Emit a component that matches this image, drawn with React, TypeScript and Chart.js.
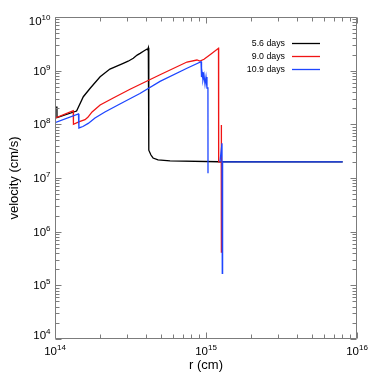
import React, { useEffect, useRef } from 'react';
import { Chart, registerables } from 'chart.js';

Chart.register(...registerables);

// Series labels and colours
const seriesLabels = ['5.6 days', '9.0 days', '10.9 days'];
const seriesColors = ['#000000', '#f01414', '#1e46ff'];

// Axis tick exponents (decades)
const xTickExponents = [14, 15, 16];
const yTickExponents = [4, 5, 6, 7, 8, 9, 10];

// 5.6 days
const r56 = [1.0e14, 1.03e14, 1.031e14, 1.39e14, 1.54e14, 1.71e14, 1.99e14, 2.31e14, 2.83e14, 3.05e14, 3.3e14, 3.5e14, 3.66e14, 3.85e14, 4.05e14, 4.1e14, 4.15e14, 4.17e14, 4.19e14, 4.32e14, 4.46e14, 4.81e14, 5.78e14, 1.22e15, 8.04e15];
const v56 = [2.1e8, 2.1e8, 1.33e8, 1.77e8, 3.27e8, 4.7e8, 7.7e8, 1.07e9, 1.37e9, 1.5e9, 1.7e9, 1.95e9, 2.1e9, 2.3e9, 2.5e9, 2.45e9, 2.68e9, 2.6e9, 3.3e7, 2.68e7, 2.36e7, 2.17e7, 2.08e7, 2.01e7, 2.0e7];

// 9.0 days
const r90 = [1.0e14, 1.32e14, 1.325e14, 1.45e14, 1.58e14, 1.65e14, 1.76e14, 1.99e14, 2.43e14, 3.14e14, 4.96e14, 7.48e14, 8.71e14, 9.12e14, 9.7e14, 1.08e15, 1.21e15, 1.213e15, 1.262e15, 1.263e15, 1.266e15];
const v90 = [1.3e8, 1.79e8, 1.0e8, 1.12e8, 1.22e8, 1.35e8, 1.7e8, 2.3e8, 3.1e8, 4.5e8, 8.4e8, 1.45e9, 1.58e9, 1.51e9, 1.63e9, 2.04e9, 2.61e9, 2.0e7, 2.0e7, 9.7e7, 4.06e5];

// 10.9 days (null = gap)
const r109 = [1.0e14, 1.43e14, 1.44e14, 1.53e14, 1.66e14, 1.84e14, 2.14e14, 2.69e14, 3.65e14, 4.96e14, 7.48e14, 9.27e14, 9.34e14, 9.41e14, 9.55e14, 9.7e14, 9.85e14, 1.0e15, 1.015e15, 1.03e15, 1.031e15, 1.1e15, 1.238e15, 1.276e15, 1.282e15, 1.288e15, 8.04e15];
const v109 = [1.07e8, 1.56e8, 8.55e7, 9.1e7, 1.04e8, 1.31e8, 1.7e8, 2.39e8, 3.76e8, 6.3e8, 1.11e9, 1.47e9, 7.6e8, 9.4e8, 6.7e8, 8.3e8, 5.6e8, 7.6e8, 4.75e8, 4.75e8, 1.22e7, null, 2.0e7, 4.44e7, 1.68e5, 2.0e7, 2.0e7];

const FONT = '"Liberation Sans", Arial, Helvetica, sans-serif';

const toPoints = (xs: number[], ys: (number | null)[]) => xs.map((x, i) => ({ x, y: ys[i] }));

const idlFrame = {
  id: 'idlFrame',
  afterDraw(chart: any) {
    const { ctx, chartArea: a, scales } = chart;
    const xs = scales.x;
    const ys = scales.y;
    const L = Math.round(a.left) + 0.5;
    const R = Math.round(a.right) - 0.5;
    const T = Math.round(a.top) + 0.5;
    const B = Math.round(a.bottom) - 0.5;
    ctx.save();
    ctx.strokeStyle = '#7c7c7c';
    ctx.lineWidth = 1;
    ctx.beginPath();
    ctx.rect(L, T, R - L, B - T);
    ctx.stroke();

    // x ticks
    ctx.beginPath();
    for (let k = xTickExponents[0]; k <= xTickExponents[xTickExponents.length - 1]; k++) {
      for (let m = 1; m <= 9; m++) {
        const v = m * Math.pow(10, k);
        if (v < xs.min * 0.999 || v > xs.max * 1.001) continue;
        const len = m === 1 ? 6 : 4;
        const px = Math.round(xs.getPixelForValue(v)) + 0.5;
        ctx.moveTo(px, B);
        ctx.lineTo(px, B - len);
        ctx.moveTo(px, T);
        ctx.lineTo(px, T + len);
      }
    }
    // y ticks
    for (let k = yTickExponents[0]; k <= yTickExponents[yTickExponents.length - 1]; k++) {
      for (let m = 1; m <= 9; m++) {
        const v = m * Math.pow(10, k);
        if (v < ys.min * 0.999 || v > ys.max * 1.001) continue;
        const len = m === 1 ? 6 : 4;
        const py = Math.round(ys.getPixelForValue(v)) + 0.5;
        ctx.moveTo(L, py);
        ctx.lineTo(L + len, py);
        ctx.moveTo(R, py);
        ctx.lineTo(R - len, py);
      }
    }
    ctx.stroke();

    // tick labels
    const mainFont = `11.5px ${FONT}`;
    const expFont = `8px ${FONT}`;
    const cap = 8.2;
    ctx.fillStyle = '#000';
    ctx.textBaseline = 'alphabetic';
    ctx.textAlign = 'left';
    yTickExponents.forEach((e) => {
      const py = ys.getPixelForValue(Math.pow(10, e));
      ctx.font = mainFont;
      const wm = ctx.measureText('10').width;
      ctx.font = expFont;
      const we = ctx.measureText(String(e)).width;
      let base = py + cap / 2;
      base = Math.max(base, a.top + cap);
      base = Math.min(base, a.bottom);
      const right = a.left - 4.5;
      ctx.font = mainFont;
      ctx.fillText('10', right - we - wm, base);
      ctx.font = expFont;
      ctx.fillText(String(e), right - we, base - 5);
    });
    xTickExponents.forEach((e) => {
      const px = xs.getPixelForValue(Math.pow(10, e));
      ctx.font = mainFont;
      const wm = ctx.measureText('10').width;
      ctx.font = expFont;
      const we = ctx.measureText(String(e)).width;
      const start = px - (wm + we) / 2;
      const base = a.bottom + 16;
      ctx.font = mainFont;
      ctx.fillText('10', start, base);
      ctx.font = expFont;
      ctx.fillText(String(e), start + wm, base - 5);
    });

    // axis titles
    ctx.font = `13px ${FONT}`;
    ctx.textAlign = 'center';
    ctx.fillText('r (cm)', (a.left + a.right) / 2, 369);
    ctx.save();
    ctx.translate(18, (a.top + a.bottom) / 2);
    ctx.rotate(-Math.PI / 2);
    ctx.fillText('velocity (cm/s)', 0, 0);
    ctx.restore();

    // legend
    ctx.font = `8.8px ${FONT}`;
    ctx.textAlign = 'right';
    ctx.textBaseline = 'middle';
    const rowsY = [43.5, 56.5, 69.5];
    seriesLabels.forEach((lab, i) => {
      ctx.fillStyle = '#000';
      ctx.fillText(lab, 285, rowsY[i]);
      ctx.strokeStyle = seriesColors[i];
      ctx.lineWidth = 1.3;
      ctx.beginPath();
      ctx.moveTo(292, rowsY[i]);
      ctx.lineTo(320, rowsY[i]);
      ctx.stroke();
    });
    ctx.restore();
  },
};

export default function App() {
  const ref = useRef<HTMLCanvasElement | null>(null);
  useEffect(() => {
    if (!ref.current) return;
    const seriesData = [toPoints(r56, v56), toPoints(r90, v90), toPoints(r109, v109)];
    const chart = new Chart(ref.current, {
      type: 'scatter',
      data: {
        datasets: seriesData.map((d, i) => ({
          label: seriesLabels[i],
          data: d,
          showLine: true,
          borderColor: seriesColors[i],
          backgroundColor: seriesColors[i],
          borderWidth: 1.3,
          pointRadius: 0,
          fill: false,
          spanGaps: false,
          tension: 0,
          order: 3 - i,
        })),
      },
      options: {
        responsive: false,
        animation: false,
        events: [],
        layout: { padding: { left: 55, right: 17, top: 17, bottom: 35 } },
        plugins: { legend: { display: false }, tooltip: { enabled: false } },
        scales: {
          x: { type: 'logarithmic', min: 1e14, max: 1e16, display: false },
          y: { type: 'logarithmic', min: 1e4, max: 1e10, display: false },
        },
      },
      plugins: [idlFrame],
    } as any);
    return () => chart.destroy();
  }, []);
  return (
    <div style={{ position: 'fixed', left: 0, top: 0, width: 374, height: 374, background: '#fff' }}>
      <canvas ref={ref} width={374} height={374} style={{ display: 'block' }} />
    </div>
  );
}
